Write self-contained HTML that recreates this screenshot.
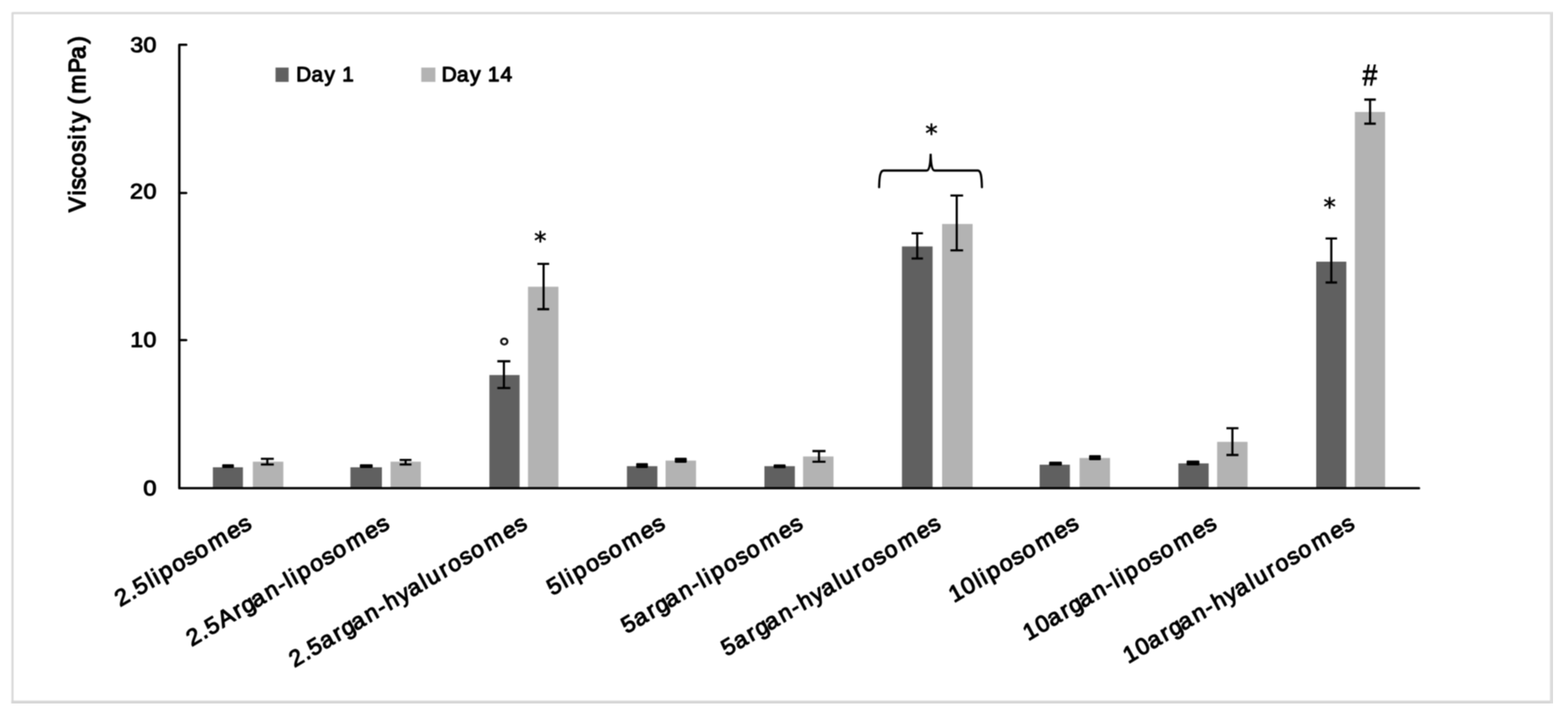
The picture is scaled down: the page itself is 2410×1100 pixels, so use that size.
<!DOCTYPE html>
<html lang="en">
<head>
<meta charset="utf-8">
<title>Viscosity (mPa) of liposomes and hyalurosomes at Day 1 and Day 14</title>
<style>
html,body{margin:0;padding:0;background:#fff;}
body{width:2410px;height:1100px;overflow:hidden;}
svg{display:block;}
text{font-family:"Liberation Sans", sans-serif;fill:#000000;text-rendering:geometricPrecision;}
.tk,.tt,.lg,.lb{stroke:#000;stroke-linejoin:round;stroke-linecap:round;}
.tk{stroke-width:1.4px;}
.tt{stroke-width:1.9px;}
.lg{stroke-width:1.6px;}
.lb{stroke-width:1.5px;}
</style>
</head>
<body>
<svg xmlns="http://www.w3.org/2000/svg" width="2410" height="1100" viewBox="0 0 2410 1100">
<defs><filter id="soft" x="0" y="0" width="2410" height="1100" filterUnits="userSpaceOnUse" color-interpolation-filters="sRGB"><feConvolveMatrix order="3" kernelMatrix="1 1.5 1 1.5 2.25 1.5 1 1.5 1" divisor="12.25" edgeMode="duplicate" preserveAlpha="true"/></filter></defs>
<rect x="0" y="0" width="2410" height="1100" fill="#ffffff"/>
<g filter="url(#soft)">
<rect x="0" y="0" width="2410" height="1100" fill="#ffffff"/>
<g fill="none" stroke-linejoin="round">
<path d="M19.2 1086V20.1H2392" stroke="#d8d8d8" stroke-width="3.2"/>
</g>
<rect x="17.5" y="1076.4" width="2375" height="10" fill="#d6d6d6"/>
<rect x="2382.3" y="19.3" width="10" height="1067" rx="1" fill="#dcdcdc"/>
<g>
<rect x="327.2" y="717.9" width="46.2" height="32.1" fill="#606060"/>
<rect x="388.6" y="709.3" width="46.9" height="40.7" fill="#b3b3b3"/>
<rect x="538.6" y="717.9" width="48.4" height="32.1" fill="#606060"/>
<rect x="600.3" y="709.3" width="46.5" height="40.7" fill="#b3b3b3"/>
<rect x="752.2" y="576.2" width="46.4" height="173.8" fill="#606060"/>
<rect x="811.5" y="440.5" width="46.8" height="309.5" fill="#b3b3b3"/>
<rect x="963.6" y="716.2" width="46.8" height="33.8" fill="#606060"/>
<rect x="1023.0" y="707.6" width="46.8" height="42.4" fill="#b3b3b3"/>
<rect x="1174.9" y="716.2" width="46.8" height="33.8" fill="#606060"/>
<rect x="1234.3" y="701.3" width="46.8" height="48.7" fill="#b3b3b3"/>
<rect x="1386.3" y="378.6" width="47.1" height="371.4" fill="#606060"/>
<rect x="1448.0" y="344.1" width="46.9" height="405.9" fill="#b3b3b3"/>
<rect x="1597.9" y="713.9" width="46.5" height="36.1" fill="#606060"/>
<rect x="1659.3" y="703.6" width="46.8" height="46.4" fill="#b3b3b3"/>
<rect x="1811.2" y="711.9" width="46.5" height="38.1" fill="#606060"/>
<rect x="1870.7" y="678.8" width="46.8" height="71.2" fill="#b3b3b3"/>
<rect x="2023.0" y="402.0" width="46.3" height="348.0" fill="#606060"/>
<rect x="2082.4" y="172.0" width="46.5" height="578.0" fill="#b3b3b3"/>
</g>
<g stroke="#000" stroke-width="3.3" stroke-linejoin="round" fill="none">
<path d="M401.0 704.9H420.8M401.0 713.6H420.8M410.9 704.9V713.6"/>
<path d="M614.3 706.6H632.4M614.3 713.7H632.4M623.4 706.6V713.7"/>
<path d="M764.4 555.0H784.4M764.4 596.2H784.4M774.5 555.0V596.2"/>
<path d="M825.9 405.3H844.1M825.9 475.0H844.1M835.5 405.3V475.0"/>
<path d="M1248.7 693.0H1268.8M1248.7 709.3H1268.8M1258.8 693.0V709.3"/>
<path d="M1401.1 358.3H1418.6M1401.1 397.1H1418.6M1409.8 358.3V397.1"/>
<path d="M1460.8 300.4H1480.3M1460.8 384.7H1480.3M1470.5 300.4V384.7"/>
<path d="M1885.0 657.8H1903.5M1885.0 699.0H1903.5M1894.2 657.8V699.0"/>
<path d="M2037.4 366.3H2055.1M2037.4 434.0H2055.1M2046.2 366.3V434.0"/>
<path d="M2096.9 153.0H2114.6M2096.9 190.0H2114.6M2105.8 153.0V190.0"/>
</g>
<g fill="#000">
<rect x="341.5" y="713.2" width="18.0" height="5.7" rx="1.3"/>
<rect x="553.1" y="713.2" width="19.7" height="5.7" rx="1.3"/>
<rect x="977.8" y="711.5" width="18.0" height="7.4" rx="1.3"/>
<rect x="1037.2" y="703.2" width="18.3" height="7.7" rx="1.3"/>
<rect x="1189.1" y="713.5" width="18.4" height="5.7" rx="1.3"/>
<rect x="1612.5" y="709.2" width="19.6" height="6.1" rx="1.3"/>
<rect x="1673.9" y="699.3" width="18.0" height="7.7" rx="1.3"/>
<rect x="1823.8" y="707.6" width="19.7" height="7.3" rx="1.3"/>
</g>
<g stroke="#000" fill="none" stroke-linejoin="round" stroke-linecap="round">
<path d="M286.3 68.75H275.6V750H2181" stroke-width="3.7"/>
<path d="M275.6 296.5H286.3M275.6 522.4H286.3" stroke-width="3.5"/>
</g>
<text class="tk" x="-36.85 -18.44" y="-0.70" font-size="32.50" transform="translate(240.81 80.19) scale(1.0988 1)">30</text>
<text class="tk" x="-36.95 -18.35" y="-0.70" font-size="32.50" transform="translate(240.81 306.09) scale(1.1088 1)">20</text>
<text class="tk" x="-37.12 -18.49" y="-0.70" font-size="32.50" transform="translate(240.81 533.79) scale(1.0926 1)">10</text>
<text class="tk" x="-18.23" y="-0.70" font-size="32.50" transform="translate(240.81 761.59) scale(1.1237 1)">0</text>
<text class="tt" x="1.03 27.78 37.17 55.14 75.26 97.29 116.61 128.48 143.01 162.63 172.92 189.83 222.62 245.29 269.19" y="-0.95" font-size="36.40" transform="translate(132.20 327.00) rotate(-90) scale(0.9645 1)">Viscosity (mPa)</text>
<rect x="423.5" y="103.8" width="20.1" height="22" fill="#606060"/>
<text class="lg" x="0.83 24.28 44.43 61.62 71.72" y="-0.80" font-size="31.90" transform="translate(454.40 125.60) scale(0.9992 1)">Day 1</text>
<rect x="647.5" y="103.8" width="21.7" height="22" fill="#b3b3b3"/>
<text class="lg" x="0.66 23.84 43.75 60.81 70.66 89.88" y="-0.80" font-size="31.90" transform="translate(678.20 125.60) scale(1.0125 1)">Day 14</text>
<text class="lb" x="-219.51 -199.16 -188.92 -167.73 -157.90 -147.77 -126.46 -106.62 -88.96 -66.30 -35.46 -16.38" y="-0.75" font-size="34.00" transform="translate(388.50 811.40) scale(1 1.05) rotate(-29.7) scale(1.0683 1)">2.5liposomes</text>
<text class="lb" x="-331.89 -311.42 -301.06 -280.04 -254.99 -241.75 -224.79 -202.69 -182.14 -169.03 -159.12 -148.87 -127.39 -107.40 -89.59 -66.72 -35.67 -16.45" y="-0.75" font-size="34.00" transform="translate(600.44 811.40) scale(1 1.05) rotate(-29.7) scale(1.0599 1)">2.5Argan-liposomes</text>
<text class="lb" x="-396.53 -375.81 -365.22 -345.42 -323.09 -309.60 -292.37 -269.94 -249.12 -235.49 -214.65 -197.56 -175.58 -165.47 -143.17 -129.21 -108.92 -90.83 -67.53 -36.07 -16.57" y="-0.75" font-size="34.00" transform="translate(812.38 811.40) scale(1 1.05) rotate(-29.7) scale(1.0438 1)">2.5argan-hyalurosomes</text>
<text class="lb" x="-190.11 -168.83 -158.92 -148.69 -127.24 -107.27 -89.49 -66.65 -35.63 -16.44" y="-0.75" font-size="34.00" transform="translate(1024.32 811.40) scale(1 1.05) rotate(-29.7) scale(1.0612 1)">5liposomes</text>
<text class="lb" x="-300.99 -281.18 -258.85 -245.36 -228.13 -205.69 -184.88 -171.60 -161.53 -151.03 -129.22 -108.93 -90.84 -67.53 -36.07 -16.57" y="-0.75" font-size="34.00" transform="translate(1236.26 811.40) scale(1 1.05) rotate(-29.7) scale(1.0437 1)">5argan-liposomes</text>
<text class="lb" x="-367.06 -347.15 -324.73 -311.16 -293.83 -271.29 -250.39 -236.65 -215.71 -198.53 -176.47 -166.28 -143.87 -129.83 -109.44 -91.25 -67.80 -36.21 -16.61" y="-0.75" font-size="34.00" transform="translate(1448.20 811.40) scale(1 1.05) rotate(-29.7) scale(1.0384 1)">5argan-hyalurosomes</text>
<text class="lb" x="-208.59 -188.57 -167.78 -157.94 -147.82 -126.50 -106.65 -88.99 -66.32 -35.47 -16.39" y="-0.75" font-size="34.00" transform="translate(1660.14 811.40) scale(1 1.05) rotate(-29.7) scale(1.0680 1)">10liposomes</text>
<text class="lb" x="-319.43 -299.05 -279.76 -257.53 -244.12 -226.99 -204.66 -183.94 -170.72 -160.71 -150.29 -128.60 -108.41 -90.41 -67.25 -35.93 -16.53" y="-0.75" font-size="34.00" transform="translate(1872.08 811.40) scale(1 1.05) rotate(-29.7) scale(1.0492 1)">10argan-liposomes</text>
<text class="lb" x="-385.51 -365.02 -345.61 -323.27 -309.78 -292.53 -270.09 -249.27 -235.61 -214.77 -197.67 -175.68 -165.56 -143.25 -129.28 -108.98 -90.87 -67.56 -36.09 -16.57" y="-0.75" font-size="34.00" transform="translate(2084.02 811.40) scale(1 1.05) rotate(-29.7) scale(1.0432 1)">10argan-hyalurosomes</text>
<text style="font-family:&quot;DejaVu Sans&quot;, sans-serif;font-weight:normal" font-size="37.80" fill="#000000" stroke="#000000" stroke-width="0.8" stroke-linejoin="round" transform="translate(820.97 382.57) scale(0.9981 1)">*</text>
<text style="font-family:&quot;DejaVu Sans&quot;, sans-serif;font-weight:normal" font-size="37.80" fill="#000000" stroke="#000000" stroke-width="0.8" stroke-linejoin="round" transform="translate(1422.37 218.37) scale(0.9981 1)">*</text>
<text style="font-family:&quot;DejaVu Sans&quot;, sans-serif;font-weight:normal" font-size="37.80" fill="#000000" stroke="#000000" stroke-width="0.8" stroke-linejoin="round" transform="translate(2034.17 331.17) scale(0.9981 1)">*</text>
<text style="font-family:&quot;Liberation Sans&quot;, sans-serif;font-weight:normal" font-size="40.00" fill="#202020" stroke="#202020" stroke-width="1" stroke-linejoin="round" transform="translate(766.58 547.20) scale(1.0656 1)">°</text>
<text style="font-family:&quot;Liberation Sans&quot;, sans-serif;font-weight:normal" font-size="45.99" fill="#000000" stroke="#000000" stroke-width="1.3" stroke-linejoin="round" transform="translate(2094.17 131.45) scale(0.8838 1)">#</text>
<path d="M1351.2 287.7C1351.6 270 1353 262 1358.5 262H1424C1428.5 262 1430 252 1430.4 236.4C1430.8 252 1432.3 262 1436.8 262H1503C1507.5 262 1508.8 270 1509.2 287.7" fill="none" stroke="#000" stroke-width="3.3" stroke-linecap="round" stroke-linejoin="miter" stroke-miterlimit="10"/>
</g>
<path d="M2387 0H2410V1100H0V1080.8H2387Z" fill="#ffffff"/>
</svg>
</body>
</html>
